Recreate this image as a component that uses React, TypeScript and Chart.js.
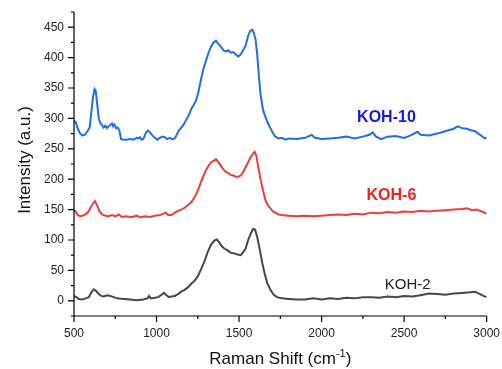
import { useEffect, useRef } from 'react';
import { Chart, registerables } from 'chart.js';
Chart.register(...registerables);

const FONT = '"Liberation Sans", Arial, Helvetica, sans-serif';

const koh10X = [500,510,520,535,550,565,580,595,605,615,625,632,640,650,660,670,680,690,700,710,720,730,737,745,755,765,775,785,800,820,840,860,880,890,900,910,920,935,948,960,975,990,1005,1020,1035,1050,1065,1080,1095,1110,1120,1135,1150,1165,1180,1195,1210,1225,1240,1255,1270,1285,1300,1315,1330,1345,1360,1375,1390,1405,1420,1435,1450,1465,1480,1495,1510,1525,1540,1555,1568,1580,1590,1600,1610,1620,1630,1645,1660,1675,1690,1705,1720,1740,1760,1780,1800,1850,1900,1940,1960,2000,2050,2100,2150,2200,2250,2290,2310,2330,2360,2400,2450,2500,2540,2580,2600,2650,2700,2750,2800,2825,2850,2880,2900,2930,2950,2970,2990,3000];
const koh10Y = [296,294,285,276,272,273,278,285,310,335,348,345,325,300,292,289,285,288,284,287,289,292,287,290,284,285,280,266,265,265,266,265,268,267,269,265,266,276,280,277,272,268,265,268,270,269,266,268,266,267,272,280,285,290,298,305,315,322,330,345,365,382,395,408,418,425,428,422,418,412,410,412,408,409,405,402,405,412,420,436,444,446,440,430,405,370,340,314,302,292,284,276,270,267,268,265,267,266,268,273,268,266,267,268,270,267,270,273,277,270,266,270,271,268,272,278,273,272,275,279,283,287,284,283,281,279,275,271,267,269];

const koh6X = [500,510,520,535,550,570,585,600,615,627,640,655,670,690,710,730,750,770,790,810,850,880,900,930,960,990,1020,1040,1055,1070,1090,1110,1130,1150,1170,1190,1210,1225,1240,1255,1270,1285,1300,1315,1330,1345,1360,1375,1390,1405,1420,1435,1450,1465,1480,1495,1510,1525,1540,1555,1570,1585,1595,1605,1615,1630,1645,1660,1675,1690,1705,1720,1740,1760,1800,1850,1900,1950,2000,2050,2100,2150,2200,2250,2300,2350,2400,2450,2500,2550,2600,2650,2700,2750,2800,2850,2880,2910,2940,2960,2980,3000];
const koh6Y = [148,147,142,139,140,142,146,153,160,164,157,147,142,140,139,141,139,142,138,139,138,140,137,139,138,140,141,143,145,141,141,145,148,150,153,157,162,168,175,185,196,206,215,222,228,230,233,228,222,216,212,210,207,206,204,204,206,212,220,228,236,242,245,238,222,200,182,165,157,152,147,145,142,141,140,139,140,139,140,141,142,141,143,142,145,144,146,145,147,146,148,147,148,149,150,151,152,149,150,148,146,143];

const koh2X = [500,515,530,550,570,590,605,620,635,650,665,680,700,720,740,760,800,840,880,920,945,955,965,990,1010,1030,1045,1060,1075,1090,1110,1130,1150,1170,1190,1210,1230,1250,1270,1290,1310,1330,1350,1365,1380,1395,1410,1430,1450,1470,1490,1510,1525,1540,1555,1570,1585,1597,1610,1625,1640,1655,1670,1690,1710,1730,1760,1800,1850,1900,1950,2000,2050,2100,2150,2200,2250,2300,2350,2400,2450,2500,2550,2600,2650,2700,2750,2800,2850,2900,2930,2960,2980,3000];
const koh2Y = [8,6,3,2,4,6,14,19,16,11,8,7,9,8,6,4,3,2,1,2,4,8,4,5,6,10,13,9,6,7,8,11,15,18,22,28,33,40,52,65,80,92,99,101,96,90,86,83,79,78,76,75,80,86,100,110,118,117,105,85,63,45,30,18,10,6,4,3,2,2,4,2,4,3,5,4,6,6,5,7,6,8,7,9,12,11,10,12,13,14,15,11,8,6];

const seriesNames = ['KOH-10', 'KOH-6', 'KOH-2'];
const labelX = [2393, 2423, 2522];
const labelY = [301, 173, 26];

const xTitle = 'Raman Shift (cm';
const xTitleSup = '-1';
const yTitle = 'Intensity (a.u.)';

export default function App() {
  const ref = useRef<HTMLCanvasElement>(null);
  useEffect(() => {
    const pts = (xs: number[], ys: number[]) => xs.map((x, i) => ({ x, y: ys[i] }));
    const lineColors = ['#1f6fe0', '#ee3c3c', '#474747'];
    const labelColors = ['#1818e0', '#ee2222', '#222222'];
    const labelFonts = ['bold 16px ' + FONT, 'bold 16px ' + FONT, '15px ' + FONT];
    const deco = {
      id: 'deco',
      afterDraw(chart: any) {
        const { ctx, chartArea: a, scales } = chart;
        const xs = scales.x, ys = scales.y;
        ctx.save();
        ctx.strokeStyle = '#000';
        ctx.lineWidth = 1.2;
        ctx.beginPath();
        ctx.moveTo(a.left, a.top);
        ctx.lineTo(a.left, a.bottom);
        ctx.lineTo(a.right, a.bottom);
        ctx.stroke();
        ctx.beginPath();
        for (let v = -25; v <= 475; v += 25) {
          const p = ys.getPixelForValue(v);
          const len = v % 50 === 0 ? 6 : 3;
          ctx.moveTo(a.left - len, p);
          ctx.lineTo(a.left, p);
        }
        for (let v = 500; v <= 3000; v += 250) {
          const p = xs.getPixelForValue(v);
          const len = v % 500 === 0 ? 6 : 3;
          ctx.moveTo(p, a.bottom);
          ctx.lineTo(p, a.bottom + len);
        }
        ctx.stroke();
        // series labels
        ctx.textAlign = 'center';
        ctx.textBaseline = 'middle';
        for (let i = 0; i < seriesNames.length; i++) {
          ctx.font = labelFonts[i];
          ctx.fillStyle = labelColors[i];
          ctx.fillText(seriesNames[i], xs.getPixelForValue(labelX[i]), ys.getPixelForValue(labelY[i]));
        }
        // x title
        ctx.fillStyle = '#111';
        ctx.textBaseline = 'alphabetic';
        ctx.textAlign = 'left';
        const big = '17px ' + FONT, small = '11px ' + FONT;
        ctx.font = big;
        const w1 = ctx.measureText(xTitle).width;
        const w3 = ctx.measureText(')').width;
        ctx.font = small;
        const w2 = ctx.measureText(xTitleSup).width;
        const total = w1 + w2 + w3;
        let x0 = (a.left + a.right) / 2 - total / 2;
        const base = 364;
        ctx.font = big;
        ctx.fillText(xTitle, x0, base);
        ctx.font = small;
        ctx.fillText(xTitleSup, x0 + w1, base - 7);
        ctx.font = big;
        ctx.fillText(')', x0 + w1 + w2, base);
        // y title
        ctx.save();
        ctx.translate(30, 160);
        ctx.rotate(-Math.PI / 2);
        ctx.textAlign = 'center';
        ctx.textBaseline = 'alphabetic';
        ctx.font = big;
        ctx.fillText(yTitle, 0, 0);
        ctx.restore();
        ctx.restore();
      },
    };
    const chart = new Chart(ref.current as HTMLCanvasElement, {
      type: 'line',
      data: {
        datasets: [
          { label: seriesNames[0], data: pts(koh10X, koh10Y), borderColor: lineColors[0], borderWidth: 2, pointRadius: 0, tension: 0 },
          { label: seriesNames[1], data: pts(koh6X, koh6Y), borderColor: lineColors[1], borderWidth: 2, pointRadius: 0, tension: 0 },
          { label: seriesNames[2], data: pts(koh2X, koh2Y), borderColor: lineColors[2], borderWidth: 2, pointRadius: 0, tension: 0 },
        ],
      },
      options: {
        responsive: false,
        animation: false,
        layout: { padding: { left: 0, top: 12, right: 15, bottom: 0 } },
        plugins: { legend: { display: false }, tooltip: { enabled: false } },
        scales: {
          x: {
            type: 'linear',
            min: 500,
            max: 3000,
            grid: { display: false },
            border: { display: false },
            ticks: {
              stepSize: 250,
              autoSkip: false,
              maxRotation: 0,
              padding: 2,
              color: '#222',
              font: { family: FONT, size: 12 },
              callback: (v: any) => (Number(v) % 500 === 0 ? String(v) : ''),
            },
            afterFit: (s: any) => { s.height = 53; },
          },
          y: {
            min: -25,
            max: 475,
            grid: { display: false },
            border: { display: false },
            ticks: {
              stepSize: 25,
              autoSkip: false,
              padding: 2,
              color: '#222',
              font: { family: FONT, size: 12 },
              callback: (v: any) => (Number(v) % 50 === 0 && Number(v) >= 0 ? String(v) : ''),
            },
            afterFit: (s: any) => { s.width = 74; },
          },
        },
      },
      plugins: [deco],
    } as any);
    return () => chart.destroy();
  }, []);
  return (
    <div style={{ position: 'absolute', left: 0, top: 0, width: 502, height: 369 }}>
      <canvas ref={ref} width={502} height={369} style={{ width: 502, height: 369, display: 'block' }} />
    </div>
  );
}
